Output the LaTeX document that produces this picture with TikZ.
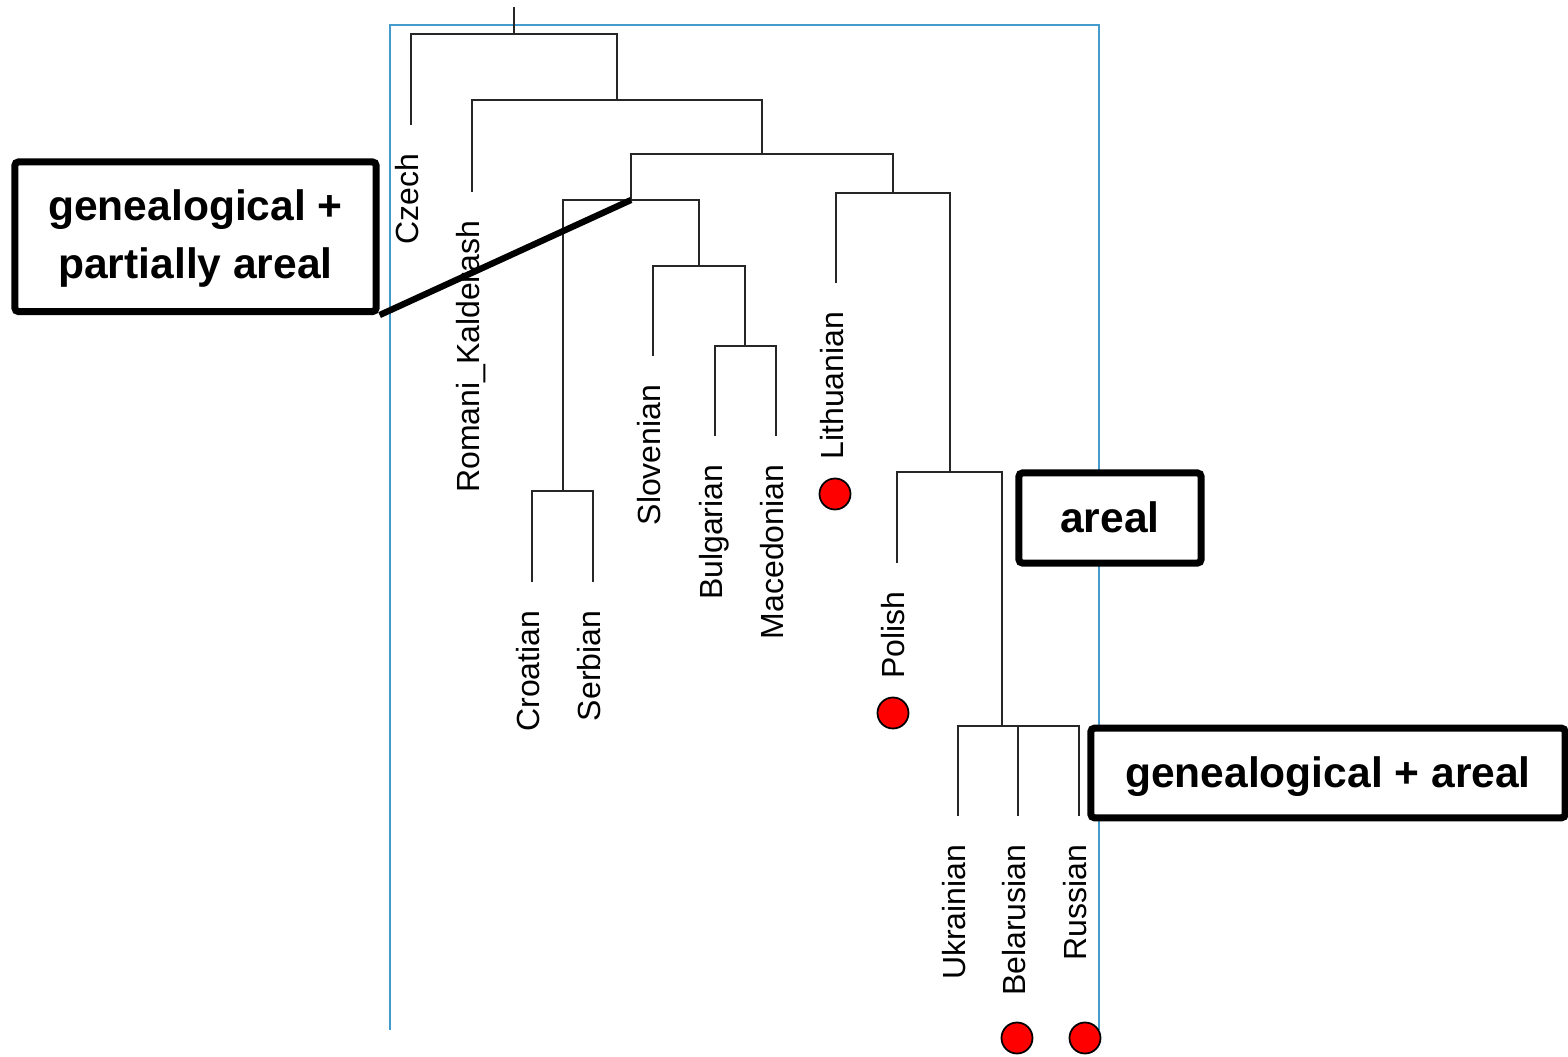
\documentclass[tikz,border=0pt]{standalone}
\usepackage{fontspec}
\setmainfont{Liberation Sans}
\definecolor{framblue}{RGB}{70,155,205}

\begin{document}
\begin{tikzpicture}[
    x=0.01cm,
    y=-0.01cm,
    font=\fontsize{9.1}{11}\selectfont,
    branch/.style={
        draw=black!85,
        line width=0.5pt
    },
    leaflabel/.style={
        rotate=90,
        anchor=base east,
        inner sep=0pt
    },
    dotmark/.style={
        circle,
        draw=black,
        line width=0.5pt,
        fill=red,
        minimum size=0.31cm,
        inner sep=0pt
    },
    tagbox/.style={
        rectangle,
        rounded corners=1pt,
        draw,
        fill=white,
        line width=2pt,
        align=center,
        inner sep=0pt,
        font=\fontsize{12.1}{16.5}\selectfont\bfseries
    },
    oneline/.style={text height=11pt, text depth=2.5pt},
    panelframe/.style={draw=framblue, line width=0.6pt}
]
\useasboundingbox (0,0) rectangle (1568,1057);

% Blue frame
\draw[panelframe] (390,1030) -- (390,25) -- (1099,25) -- (1099,1030);

% Internal nodes of the tree
\coordinate (top) at (514,7);
\coordinate (n1) at (514,34);
\coordinate (n2) at (617,100);
\coordinate (n3) at (762,154);
\coordinate (n4) at (631,200);
\coordinate (n5) at (563,491);
\coordinate (n6) at (699,266);
\coordinate (n7) at (893,193);
\coordinate (n8) at (745,346);
\coordinate (n9) at (950,472);
\coordinate (n10) at (1002,726);

% Leaves
\coordinate (czech) at (411,125);
\coordinate (romani) at (472,192);
\coordinate (croatian) at (532,582);
\coordinate (serbian) at (593,582);
\coordinate (slovenian) at (653,356);
\coordinate (bulgarian) at (715,436);
\coordinate (macedonian) at (776,436);
\coordinate (lithuanian) at (836,283);
\coordinate (polish) at (897,563);
\coordinate (ukrainian) at (958,816);
\coordinate (belarusian) at (1018,816);
\coordinate (russian) at (1079,816);

% Branches
\draw[branch] (top) -- (n1);
\draw[branch] (czech) |- (n1);
\draw[branch] (n2) |- (n1);
\draw[branch] (romani) |- (n2);
\draw[branch] (n3) |- (n2);
\draw[branch] (n4) |- (n3);
\draw[branch] (n7) |- (n3);
\draw[branch] (n5) |- (n4);
\draw[branch] (n6) |- (n4);
\draw[branch] (croatian) |- (n5);
\draw[branch] (serbian) |- (n5);
\draw[branch] (slovenian) |- (n6);
\draw[branch] (n8) |- (n6);
\draw[branch] (bulgarian) |- (n8);
\draw[branch] (macedonian) |- (n8);
\draw[branch] (lithuanian) |- (n7);
\draw[branch] (n9) |- (n7);
\draw[branch] (polish) |- (n9);
\draw[branch] (n10) |- (n9);
\draw[branch] (ukrainian) |- (n10);
\draw[branch] (belarusian) |- (n10);
\draw[branch] (russian) |- (n10);

% Leaf labels
\node[leaflabel] (czech-lbl) at ([xshift=0.07cm,yshift=-0.28cm]czech) {Czech};
\node[leaflabel] (romani-lbl) at ([xshift=0.07cm,yshift=-0.28cm]romani) {Romani\_Kalderash};
\node[leaflabel] (croatian-lbl) at ([xshift=0.07cm,yshift=-0.28cm]croatian) {Croatian};
\node[leaflabel] (serbian-lbl) at ([xshift=0.07cm,yshift=-0.28cm]serbian) {Serbian};
\node[leaflabel] (slovenian-lbl) at ([xshift=0.07cm,yshift=-0.28cm]slovenian) {Slovenian};
\node[leaflabel] (bulgarian-lbl) at ([xshift=0.07cm,yshift=-0.28cm]bulgarian) {Bulgarian};
\node[leaflabel] (macedonian-lbl) at ([xshift=0.07cm,yshift=-0.28cm]macedonian) {Macedonian};
\node[leaflabel] (lithuanian-lbl) at ([xshift=0.07cm,yshift=-0.28cm]lithuanian) {Lithuanian};
\node[leaflabel] (polish-lbl) at ([xshift=0.07cm,yshift=-0.28cm]polish) {Polish};
\node[leaflabel] (ukrainian-lbl) at ([xshift=0.07cm,yshift=-0.28cm]ukrainian) {Ukrainian};
\node[leaflabel] (belarusian-lbl) at ([xshift=0.07cm,yshift=-0.28cm]belarusian) {Belarusian};
\node[leaflabel] (russian-lbl) at ([xshift=0.07cm,yshift=-0.28cm]russian) {Russian};

% Red markers
\node[dotmark] (lithuanian-dot) at (835,494) {};
\node[dotmark] (polish-dot) at (893,713) {};
\node[dotmark] (belarusian-dot) at (1017,1038) {};
\node[dotmark] (russian-dot) at (1085,1038) {};

% Boxes
\node[tagbox, minimum width=3.61cm, minimum height=1.495cm] (partial) at (195.5,236.75) {\rule{0pt}{10pt}genealogical +\\partially areal};
\node[tagbox, oneline, minimum width=1.82cm, minimum height=0.90cm] (areal) at (1110,518) {areal};
\node[tagbox, oneline, minimum width=4.74cm, minimum height=0.895cm] (both) at (1328,773) {genealogical + areal};

% Pointer
\draw[line width=1.8pt] (partial.south east) -- (n4);

\end{tikzpicture}
\end{document}
